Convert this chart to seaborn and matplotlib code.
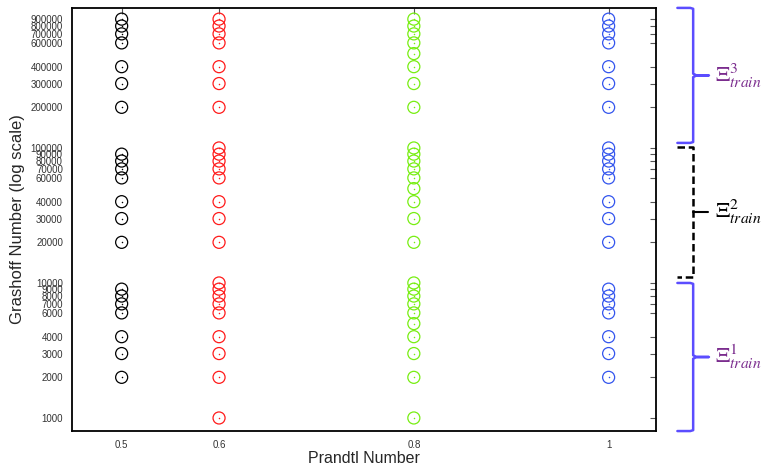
import numpy as np
import pandas as pd
import matplotlib
matplotlib.use("Agg")
import matplotlib.pyplot as plt
import matplotlib.ticker as mticker
import matplotlib.transforms as mtrans
import seaborn as sns

# dados
prandtl = [0.5, 0.6, 0.8, 1.0]
cores = ['#000000', '#ff1a1a', '#77ee11', '#3355ee']

gr_05 = [2000, 3000, 4000, 6000, 7000, 8000, 9000,
         20000, 30000, 40000, 60000, 70000, 80000, 90000,
         200000, 300000, 400000, 600000, 700000, 800000, 900000]
gr_06 = [1000, 2000, 3000, 4000, 6000, 7000, 8000, 9000, 10000,
         20000, 30000, 40000, 60000, 70000, 80000, 90000, 100000,
         200000, 300000, 400000, 600000, 700000, 800000, 900000]
gr_08 = [1000, 2000, 3000, 4000, 5000, 6000, 7000, 8000, 9000, 10000,
         20000, 30000, 40000, 50000, 60000, 70000, 80000, 90000, 100000,
         200000, 300000, 400000, 500000, 600000, 700000, 800000, 900000]
gr_10 = [2000, 3000, 4000, 6000, 7000, 8000, 9000,
         20000, 30000, 40000, 60000, 70000, 80000, 90000, 100000,
         200000, 300000, 400000, 600000, 700000, 800000, 900000]

ytick_vals = [1000, 2000, 3000, 4000, 6000, 7000, 8000, 9000, 10000,
              20000, 30000, 40000, 60000, 70000, 80000, 90000, 100000,
              200000, 300000, 400000, 600000, 700000, 800000, 900000]
xtick_labels = ['0.5', '0.6', '0.8', '1']

# faixas dos conjuntos de treino (limites em Gr)
faixa3 = (109000, 1.09e6)
faixa2 = (11100, 102000)
faixa1 = (800, 10000)

df = pd.concat([pd.DataFrame({'Pr': p, 'Gr': g})
                for p, g in zip(prandtl, [gr_05, gr_06, gr_08, gr_10])],
               ignore_index=True)

sns.set_style("white")
plt.rcParams['font.family'] = ['Liberation Sans', 'DejaVu Sans']
plt.rcParams['mathtext.fontset'] = 'stix'

fig = plt.figure(figsize=(7.74, 4.65), dpi=100)
ax = fig.add_axes([0.093, 0.073, 0.755, 0.910])

for p, c in zip(prandtl, cores):
    sub = df[df['Pr'] == p]
    sns.scatterplot(data=sub, x='Pr', y='Gr', ax=ax, color=c, facecolor='none',
                    edgecolor=c, s=75, linewidth=0.9, legend=False, zorder=3)
    sns.scatterplot(data=sub, x='Pr', y='Gr', ax=ax, color=c, s=1.2,
                    linewidth=0, legend=False, zorder=4)

ax.set_yscale('log')
ax.set_xlim(0.449, 1.049)
ax.set_ylim(800, 1.09e6)
ax.yaxis.set_major_locator(mticker.FixedLocator(ytick_vals))
ax.yaxis.set_major_formatter(mticker.FixedFormatter([str(v) for v in ytick_vals]))
ax.yaxis.set_minor_locator(mticker.NullLocator())
ax.set_xticks(prandtl)
ax.set_xticklabels(xtick_labels)

ax.tick_params(axis='both', direction='out', length=4, width=0.8, color='#555555',
               labelsize=7, labelcolor='#333333', pad=2.5)
# ticks espelhados para dentro (topo e direita)
topo = ax.secondary_xaxis('top')
topo.set_xticks(prandtl)
topo.tick_params(direction='in', length=4, width=0.8, color='#555555', labeltop=False)
dir_ = ax.secondary_yaxis('right')
dir_.set_yticks(ytick_vals)
dir_.yaxis.set_minor_locator(mticker.NullLocator())
dir_.tick_params(direction='in', length=4, width=0.8, color='#555555', labelright=False)
for s in ['top', 'right', 'left', 'bottom']:
    ax.spines[s].set_linewidth(1.3)
    ax.spines[s].set_color('black')
topo.spines['top'].set_visible(False)
dir_.spines['right'].set_visible(False)

ax.set_xlabel('Prandtl Number', fontsize=11.5, labelpad=1)
ax.set_ylabel('Grashoff Number (log scale)', fontsize=12, labelpad=4)

# chaves a direita
tr = mtrans.blended_transform_factory(ax.transAxes, ax.transData)
cor_chave = '#5b4dff'
cor_texto = '#7b2d8e'


def chave(y0, y1, cor, ls='-', rotulo='', cor_rot='k'):
    ym = np.sqrt(y0 * y1)
    xs = [1.036, 1.058, 1.063, 1.063, 1.068, 1.090, 1.068, 1.063, 1.063, 1.058, 1.036]
    f = 1.015
    ys = [y1, y1, y1 / f, ym * f ** 2, ym * 1.003, ym, ym / 1.003, ym / f ** 2, y0 * f, y0, y0]
    ax.plot(xs, ys, transform=tr, color=cor, lw=1.8, ls=ls,
            clip_on=False, solid_capstyle='round')
    ax.text(1.100, ym, rotulo, transform=tr, color=cor_rot, fontsize=16,
            va='center', ha='left')


chave(*faixa3, cor_chave, rotulo=r'$\Xi^{3}_{train}$', cor_rot=cor_texto)
chave(*faixa1, cor_chave, rotulo=r'$\Xi^{1}_{train}$', cor_rot=cor_texto)

# colchete tracejado do meio
y0, y1 = faixa2
ym = np.sqrt(y0 * y1)
ax.plot([1.036, 1.063, 1.063, 1.036], [y1, y1, y0, y0], transform=tr, color='black',
        lw=1.8, ls=(0, (3, 1.5)), clip_on=False)
ax.plot([1.063, 1.088], [ym, ym], transform=tr, color='black', lw=1.5, clip_on=False)
ax.text(1.100, ym, r'$\Xi^{2}_{train}$', transform=tr, color='black', fontsize=16,
        va='center', ha='left')

plt.savefig('out.png', dpi=100)
